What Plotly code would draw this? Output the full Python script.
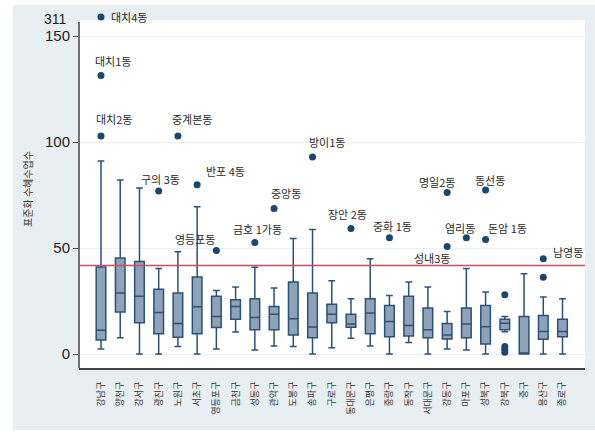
import plotly.graph_objects as go

# ---------------- data ----------------
DISTRICTS = ["강남구", "양천구", "강서구", "광진구", "노원구", "서초구", "영등포구", "금천구",
             "성동구", "관악구", "도봉구", "송파구", "구로구", "동대문구", "은평구", "중랑구",
             "동작구", "서대문구", "강동구", "마포구", "성북구", "강북구", "중구", "용산구", "종로구"]

LOWER = [2.4, 7.7, 0.0, 0.0, 3.5, 0.0, 2.4, 10.4, 1.9, 3.8, 3.5, 0.0, 3.0, 7.4, 3.8, 0.0,
         5.4, 0.0, 2.4, 1.9, 0.0, 10.5, 0.0, 0.0, 0.0]
Q1 = [6.6, 19.8, 14.8, 9.6, 7.9, 9.5, 12.5, 16.4, 11.4, 11.4, 9.0, 7.7, 14.8, 12.6, 9.5, 8.2,
      8.5, 7.7, 7.1, 7.7, 4.7, 11.4, 0.0, 7.0, 8.2]
MEDIAN = [11.2, 28.8, 27.3, 19.6, 14.4, 22.3, 17.7, 22.4, 17.2, 18.8, 16.6, 12.8, 18.8, 14.1,
          19.3, 15.3, 13.4, 11.4, 9.0, 14.1, 12.9, 14.5, 0.0, 10.6, 10.6]
Q3 = [41.1, 45.3, 43.7, 30.5, 28.8, 36.3, 27.2, 25.6, 26.1, 22.4, 34.0, 28.8, 23.5, 18.8, 26.1,
      22.9, 27.2, 21.7, 14.4, 21.7, 22.9, 16.4, 17.7, 18.2, 16.4]
UPPER = [91.1, 82.1, 78.3, 40.3, 48.2, 69.5, 30.0, 31.6, 40.9, 31.1, 54.5, 58.8, 34.6, 26.1,
         45.0, 27.6, 34.0, 31.6, 20.0, 40.3, 29.2, 17.7, 37.9, 26.9, 26.1]

OUT_DISTRICT = ["강남구", "강남구", "강남구", "노원구", "광진구", "서초구", "영등포구", "성동구",
                "관악구", "송파구", "동대문구", "중랑구", "강동구", "성북구", "마포구", "성북구",
                "강동구", "용산구", "용산구", "강북구", "강북구", "강북구", "강북구"]
OUT_VALUE = [311, 131.4, 102.8, 102.8, 76.9, 79.9, 48.8, 52.6,
             68.7, 92.9, 59.2, 54.8, 76.2, 77.4, 54.8, 54.0,
             50.7, 45.0, 36.2, 28.0, 3.6, 2.2, 0.8]
OUT_LABEL = ["대치4동", "대치1동", "대치2동", "중계본동", "구의 3동", "반포 4동", "영등포동", "금호 1가동",
             "중앙동", "방이1동", "장안 2동", "중화 1동", "명일2동", "동선동", "염리동", "돈암 1동",
             "성내3동", "남영동", "", "", "", "", ""]

Y_TICKS = [0, 50, 100, 150]
REF_LINE = 41.8
BREAK_AT = 150          # axis break: values above are drawn at BREAK_POS
BREAK_POS = 159.0
Y_TITLE = "표준화 수혜수업수"

# ---------------- styling ----------------
# label placement per outlier label: (xanchor, xshift, yshift)
LABEL_POS = {
    "대치4동": ("left", 8, 0), "대치1동": ("left", -8, 15), "대치2동": ("left", -7, 17),
    "중계본동": ("left", -8, 17), "구의 3동": ("center", 2, 12), "반포 4동": ("left", 7, 14),
    "영등포동": ("right", 1, 12), "금호 1가동": ("center", 3, 14), "중앙동": ("left", -5, 15),
    "방이1동": ("left", -6, 15), "장안 2동": ("center", -3, 15), "중화 1동": ("center", 3, 12),
    "명일2동": ("right", 10, 11), "동선동": ("center", 4, 10), "염리동": ("center", -6, 10),
    "돈암 1동": ("left", 0, 12), "성내3동": ("right", 5, -11), "남영동": ("left", 8, 7),
}

NAVY = "#1a476f"
BOX_LINE = "#2d5176"
BOX_FILL = "#8ea3b9"
BG = "#e8eff2"
AXIS = "#444"
KFONT = "Noto Sans CJK KR"

Y_MIN, Y_MAX = -6.6, 162.3     # visible range (top part holds the break)
AXIS_TOP = 156.6               # where the drawn y-axis line / white region stops
WHITE_TOP = 157.5


def disp(v):
    return v if v <= BREAK_AT else BREAK_POS


fig = go.Figure()
fig.add_trace(go.Box(
    x=DISTRICTS, q1=Q1, median=MEDIAN, q3=Q3, lowerfence=LOWER, upperfence=UPPER,
    boxpoints=False, width=0.5, whiskerwidth=0.7,
    fillcolor=BOX_FILL, line=dict(color=BOX_LINE, width=1.5), hoverinfo="skip",
))
fig.add_trace(go.Scatter(
    x=OUT_DISTRICT, y=[disp(v) for v in OUT_VALUE], mode="markers",
    marker=dict(color=NAVY, size=7), cliponaxis=False, hoverinfo="skip",
))

annotations = []
for d, v, lab in zip(OUT_DISTRICT, OUT_VALUE, OUT_LABEL):
    if not lab:
        continue
    xa, xs, ys = LABEL_POS[lab]
    annotations.append(dict(
        x=d, y=disp(v), text=lab, showarrow=False, xanchor=xa, yanchor="middle",
        xshift=xs, yshift=ys, font=dict(family=KFONT, size=11, color="#2a2a2a"),
    ))
# break tick label
annotations.append(dict(
    xref="paper", x=0, y=BREAK_POS, text=str(max(OUT_VALUE)), showarrow=False,
    xanchor="right", yanchor="middle", xshift=-10, yshift=-2,
    font=dict(family="Liberation Sans", size=14, color="#222"),
))

L, R, T, B = 79, 10, 10, 65
W, H = 595, 433
pw, ph = W - L - R, H - T - B
shapes = [
    # white plotting region (below the break)
    dict(type="rect", xref="paper", yref="y", layer="below", line=dict(width=0),
         fillcolor="white", x0=0, x1=1, y0=Y_MIN, y1=WHITE_TOP),
    # y axis line
    dict(type="line", xref="paper", yref="y", layer="above", line=dict(color=AXIS, width=1.5),
         x0=0, x1=0, y0=Y_MIN, y1=AXIS_TOP),
    # reference line
    dict(type="line", xref="paper", yref="y", layer="above", line=dict(color="#d24a62", width=1.5),
         x0=0, x1=1, y0=REF_LINE, y1=REF_LINE),
    # white outer strips
    dict(type="rect", xref="paper", yref="paper", layer="below", line=dict(width=0),
         fillcolor="white", x0=-L / pw, x1=(13 - L) / pw, y0=-B / ph, y1=(H - B) / ph),
    dict(type="rect", xref="paper", yref="paper", layer="below", line=dict(width=0),
         fillcolor="white", x0=-L / pw, x1=(W - L) / pw, y0=(H - B - 5) / ph, y1=(H - B) / ph),
    dict(type="rect", xref="paper", yref="paper", layer="below", line=dict(width=0),
         fillcolor="white", x0=-L / pw, x1=(W - L) / pw, y0=-B / ph, y1=(-B + 3) / ph),
]

fig.update_layout(
    width=W, height=H, margin=dict(l=L, r=R, t=T, b=B),
    paper_bgcolor=BG, plot_bgcolor=BG, showlegend=False,
    annotations=annotations, shapes=shapes,
    xaxis=dict(
        type="category", range=[-1.144, 25.17], tickangle=-90, automargin=False,
        tickfont=dict(family=KFONT, size=9, color="#333"),
        ticks="outside", ticklen=8, tickcolor="rgba(0,0,0,0)",
        showline=True, linecolor=AXIS, linewidth=2, showgrid=False, zeroline=False,
    ),
    yaxis=dict(
        range=[Y_MIN, Y_MAX], tickvals=Y_TICKS, ticks="outside", ticklen=5, automargin=False,
        tickcolor=AXIS, tickwidth=1.2,
        tickfont=dict(family="Liberation Sans", size=15, color="#222"),
        showline=False, gridcolor="#e9f0f3", gridwidth=1, zeroline=False,
        title=dict(text=Y_TITLE, font=dict(family=KFONT, size=10, color="#3a3a3a"), standoff=10),
    ),
)

fig.write_html(
    "out.html",
    config={"displayModeBar": False},
    post_script="document.body.style.margin='0';document.body.style.overflow='hidden';",
)
